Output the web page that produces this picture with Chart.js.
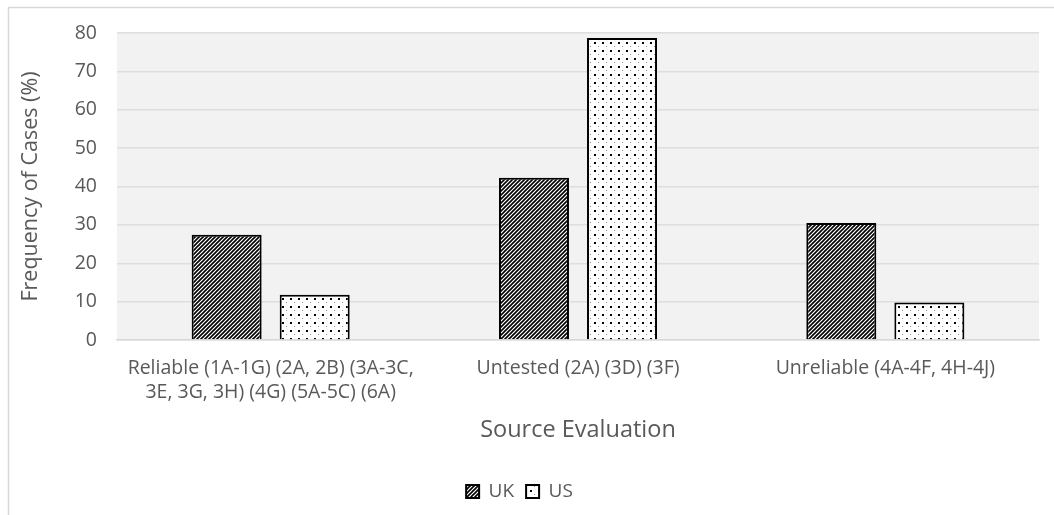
<!DOCTYPE html>
<html>
<head>
<meta charset="utf-8">
<script src="https://cdn.jsdelivr.net/npm/chart.js@4/dist/chart.umd.min.js"></script>
<style>
  html, body { margin: 0; padding: 0; background: #fff; }
  #wrap { width: 1054px; height: 515px; position: relative; }
</style>
</head>
<body>
<div id="wrap"><canvas id="myChart" width="1054" height="515"></canvas></div>
<script>
var categories = [
    ['Reliable (1A-1G) (2A, 2B) (3A-3C,', '3E, 3G, 3H) (4G) (5A-5C) (6A)'],
    'Untested (2A) (3D) (3F)',
    'Unreliable (4A-4F, 4H-4J)'
];
var ukValues = [27.4, 42.3, 30.5];
var usValues = [11.8, 78.7, 9.8];
var yTicks = [0, 10, 20, 30, 40, 50, 60, 70, 80];

var textColor = '#595959';
var fontFamily = "'Open Sans', 'Noto Sans', sans-serif";

// diagonal hatch for UK
function hatchPattern() {
    var c = document.createElement('canvas');
    c.width = 4; c.height = 4;
    var g = c.getContext('2d');
    g.fillStyle = '#fff';
    g.fillRect(0, 0, 4, 4);
    g.strokeStyle = '#000';
    g.lineWidth = 1.6;
    g.beginPath();
    g.moveTo(-1, 5); g.lineTo(5, -1);
    g.moveTo(-1, 1); g.lineTo(1, -1);
    g.moveTo(3, 5); g.lineTo(5, 3);
    g.stroke();
    return g.createPattern(c, 'repeat');
}

// dotted fill for US
function dotPattern() {
    var c = document.createElement('canvas');
    c.width = 8; c.height = 8;
    var g = c.getContext('2d');
    g.fillStyle = '#fff';
    g.fillRect(0, 0, 8, 8);
    g.fillStyle = '#000';
    g.fillRect(2, 2, 2, 2);
    g.fillStyle = '#888';
    g.fillRect(6, 6, 1, 1);
    return g.createPattern(c, 'repeat');
}

var backdrop = {
    id: 'backdrop',
    beforeDraw: function (chart) {
        var ctx = chart.ctx, a = chart.chartArea;
        ctx.save();
        ctx.fillStyle = '#f2f2f2';
        ctx.fillRect(a.left, a.top, a.right - a.left, a.bottom - a.top);
        ctx.strokeStyle = '#d9d9d9';
        ctx.lineWidth = 1.5;
        ctx.beginPath();
        ctx.moveTo(8.5, 515);
        ctx.lineTo(8.5, 7.5);
        ctx.lineTo(1054, 7.5);
        ctx.stroke();
        ctx.restore();
    }
};

var ctx = document.getElementById('myChart').getContext('2d');
var chart = new Chart(ctx, {
    type: 'bar',
    data: {
        labels: categories,
        datasets: [{
            label: 'UK',
            data: ukValues,
            backgroundColor: hatchPattern(),
            borderColor: '#000',
            borderWidth: 2
        }, {
            label: 'US',
            data: usValues,
            backgroundColor: dotPattern(),
            borderColor: '#000',
            borderWidth: 2
        }]
    },
    options: {
        responsive: false,
        animation: false,
        devicePixelRatio: 1,
        categoryPercentage: 0.573,
        barPercentage: 0.795,
        layout: { padding: { top: 33, right: 15, left: 0, bottom: 4 } },
        plugins: {
            legend: {
                position: 'bottom',
                labels: {
                    color: textColor,
                    font: { family: fontFamily, size: 19 },
                    boxWidth: 13,
                    boxHeight: 13,
                    padding: 12
                }
            },
            tooltip: { enabled: false }
        },
        scales: {
            x: {
                afterFit: function (scale) { scale.height = 130; },
                grid: { display: false },
                border: { color: '#d9d9d9', width: 1.5 },
                ticks: {
                    color: textColor,
                    font: { family: fontFamily, size: 19.5, lineHeight: 1.23 },
                    maxRotation: 0,
                    autoSkip: false,
                    padding: 8
                },
                title: {
                    display: true,
                    text: 'Source Evaluation',
                    color: textColor,
                    font: { family: fontFamily, size: 23.5 },
                    padding: { top: 10, bottom: 26 }
                }
            },
            y: {
                min: 0,
                max: 80,
                afterBuildTicks: function (scale) {
                    scale.ticks = yTicks.map(function (v) { return { value: v }; });
                },
                afterFit: function (scale) { scale.width = 117; },
                grid: { color: '#dedede', lineWidth: 1.5, drawTicks: false },
                border: { display: false },
                ticks: {
                    color: textColor,
                    font: { family: fontFamily, size: 19.5 },
                    padding: 20
                },
                title: {
                    display: true,
                    text: 'Frequency of Cases (%)',
                    color: textColor,
                    font: { family: fontFamily, size: 21.5 },
                    padding: { top: 18, bottom: 4 }
                }
            }
        }
    },
    plugins: [backdrop]
});
</script>
</body>
</html>
